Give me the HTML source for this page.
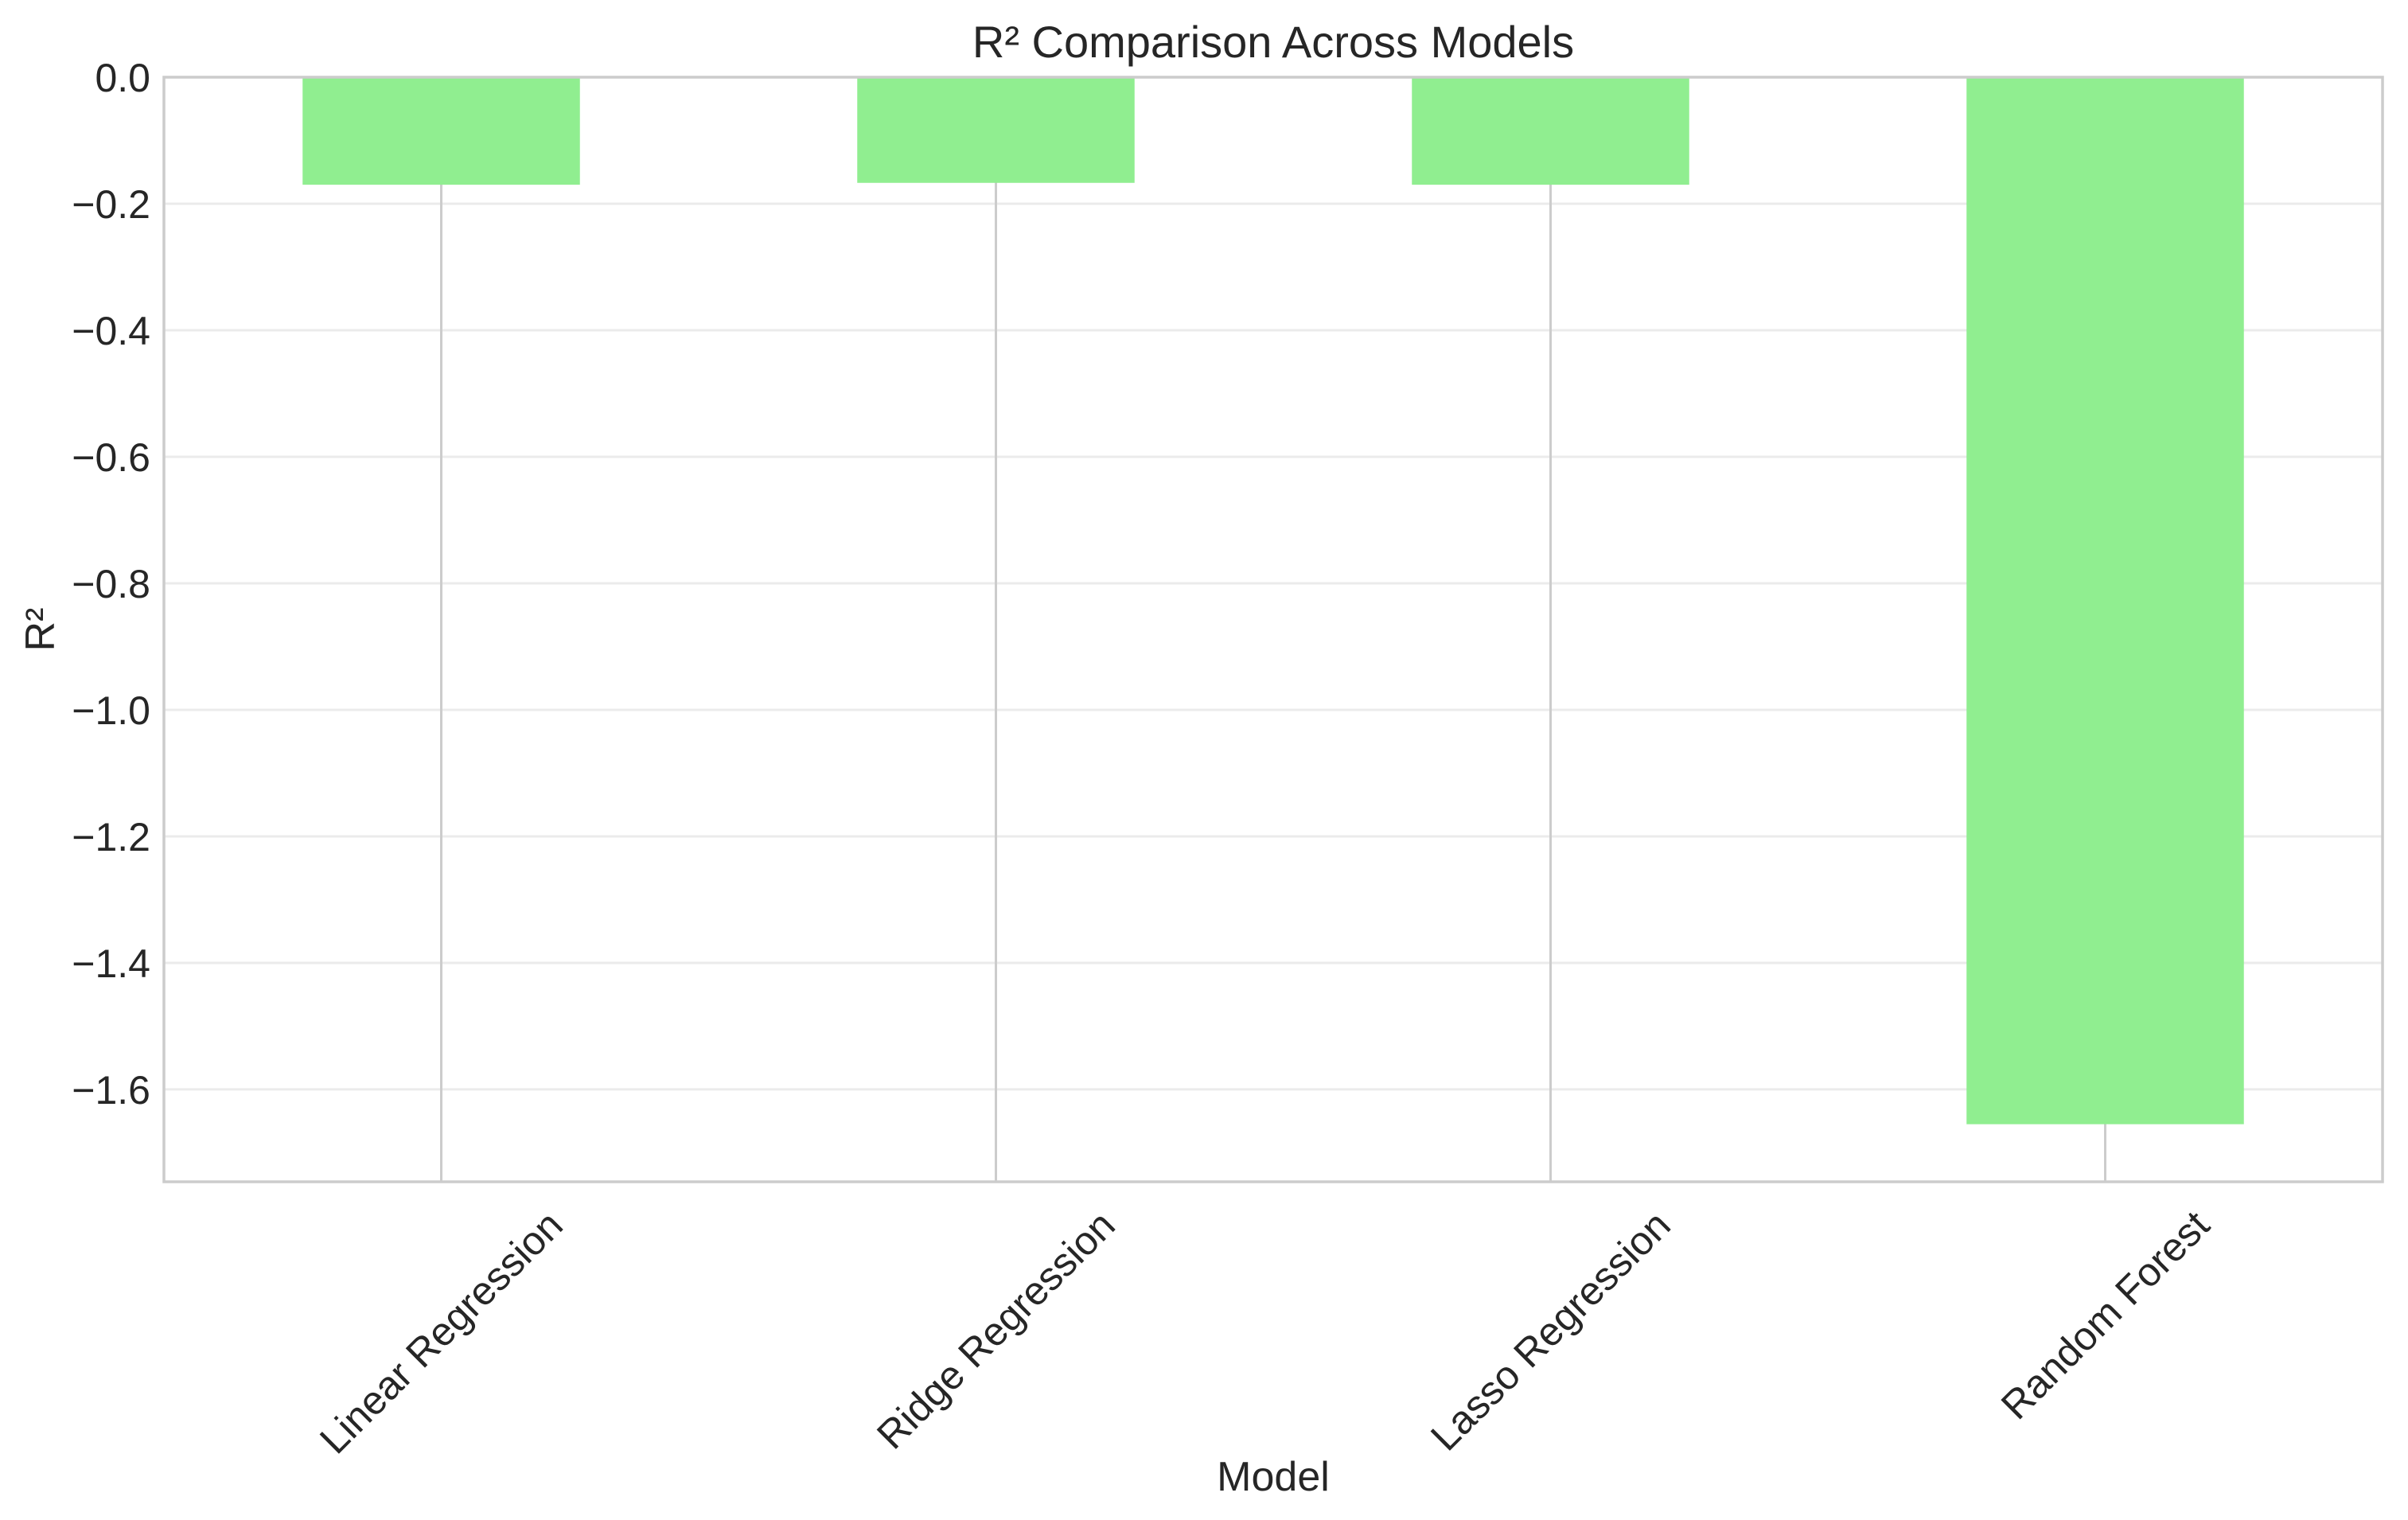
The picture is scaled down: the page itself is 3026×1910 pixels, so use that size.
<!DOCTYPE html>
<html><head><meta charset="utf-8"><style>
body{margin:0;background:#fff}
svg{display:block;font-family:"Liberation Sans",Arial,sans-serif;fill:#262626}
</style></head><body>
<svg id="chart" width="3026" height="1910" viewBox="0 0 3026 1910" xmlns="http://www.w3.org/2000/svg">
<rect width="3026" height="1910" fill="#fff"/>
<g id="grid"></g><g id="bars"></g><g id="frame"></g><g id="labels"></g>
<text x="1600" y="72" text-anchor="middle" font-size="56">R² Comparison Across Models</text>
<text x="1600" y="1873" text-anchor="middle" font-size="52">Model</text>
<text transform="translate(68,791) rotate(-90)" text-anchor="middle" font-size="52">R²</text>
</svg>
<script>
const categories = ["Linear Regression","Ridge Regression","Lasso Regression","Random Forest"];
const r2Values = [-0.170, -0.167, -0.170, -1.655];
const yTicks = [0.0,-0.2,-0.4,-0.6,-0.8,-1.0,-1.2,-1.4,-1.6];
const yTickLabels = ["0.0","−0.2","−0.4","−0.6","−0.8","−1.0","−1.2","−1.4","−1.6"];
const yMax = 0, yMin = -1.746;

const NS="http://www.w3.org/2000/svg";
const L=206,R=2994,T=97,B=1485;
const y=v=>T+(yMax-v)/(yMax-yMin)*(B-T);
const step=(R-L)/categories.length;
const x=i=>L+step*(i+0.5);
const bw=step*0.5;
function mk(tag,attrs,parent){const e=document.createElementNS(NS,tag);for(const k in attrs)e.setAttribute(k,attrs[k]);parent.appendChild(e);return e;}
const grid=document.getElementById('grid'),bars=document.getElementById('bars'),frame=document.getElementById('frame'),labels=document.getElementById('labels');
yTicks.forEach((t,i)=>{
  const g=mk('line',{x1:L,x2:R,y1:y(t),y2:y(t),stroke:'#ebebeb','stroke-width':3},grid);
  
  
  const tx=mk('text',{x:189,y:y(t)+18,'text-anchor':'end','font-size':50},labels);
  tx.textContent=yTickLabels[i];
  
  
});
categories.forEach((c,i)=>{
  const g=mk('line',{x1:x(i),x2:x(i),y1:T,y2:B,stroke:'#cccccc','stroke-width':3},grid);
  
  
  const v=r2Values[i];
  const b=mk('rect',{x:x(i)-bw/2,y:y(Math.max(0,v)),width:bw,height:Math.abs(y(v)-y(0)),fill:'#90ee90'},bars);
  
  
  const t=mk('text',{'font-size':50,'text-anchor':'middle'},labels);
  t.textContent=c;
  
  
  const w=t.getComputedTextLength();
  const h=w*Math.SQRT1_2+50*Math.SQRT1_2;
  const cy=B+28+h/2;
  t.setAttribute('transform','translate('+x(i)+','+cy+') rotate(-45)');
  t.setAttribute('y',17);
});
const f=mk('rect',{x:L,y:T,width:R-L,height:B-T,fill:'none',stroke:'#cccccc','stroke-width':3.5},frame);


</script>
</body></html>
